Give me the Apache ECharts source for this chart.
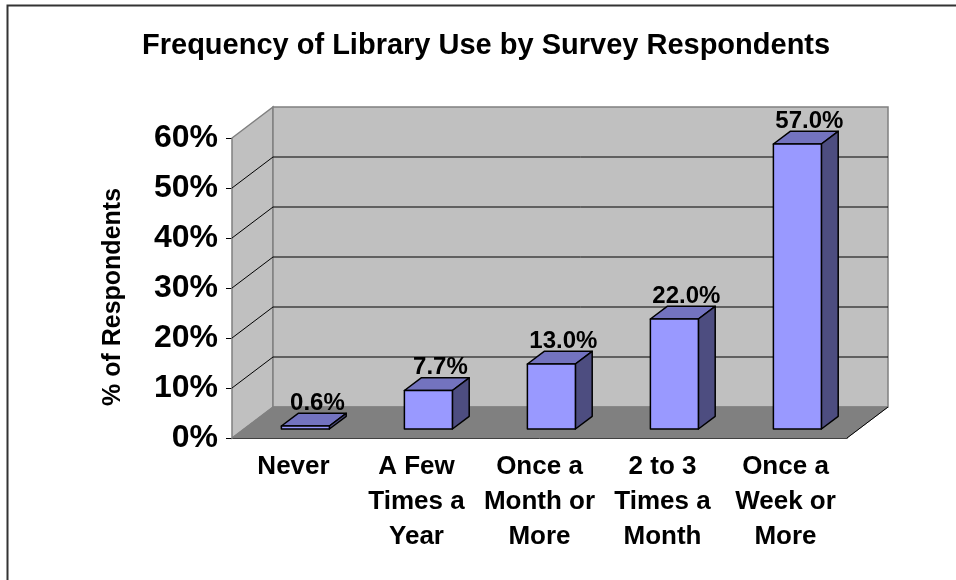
<!doctype html>
<html lang="en">
<head>
    <meta charset="UTF-8">
    <title>Frequency of Library Use</title>
    <style>
        html, body { margin: 0; padding: 0; background: #fff; }
        #main { width: 956px; height: 580px; }
    </style>
</head>
<body>
<div id="main"></div>
<script src="https://cdn.jsdelivr.net/npm/echarts@6/dist/echarts.min.js"></script>
<script type="text/javascript">
    // chart data
    var categories = ['Never', 'A Few\nTimes a\nYear', 'Once a\nMonth or\nMore', '2 to 3\nTimes a\nMonth', 'Once a\nWeek or\nMore'];
    var values = [0.6, 7.7, 13.0, 22.0, 57.0];
    var yMax = 60;
    var yStep = 10;

    // fake 3d look: depth offset of the back wall, bar depth slots
    var DX = 41, DY = -31;
    var F0 = 0.29, F1 = 0.70;
    var BAR_W = 48;
    var FONT = 'Liberation Sans, Arial, sans-serif';

    var myChart = echarts.init(document.getElementById('main'));

    // walls + floor, drawn once from the axis scale
    function renderWalls(params, api) {
        if (params.dataIndex !== 0) return;
        var n = categories.length;
        var bw = api.size([1, 0])[0];
        var x0 = api.coord([0, 0])[0] - bw / 2;
        var x1 = api.coord([n - 1, 0])[0] + bw / 2;
        var yb = api.coord([0, 0])[1];
        var yt = api.coord([0, yMax])[1];
        var kids = [];
        kids.push({
            type: 'polygon',
            shape: { points: [[x0, yt], [x0 + DX, yt + DY], [x0 + DX, yb + DY], [x0, yb]] },
            style: { fill: '#c0c0c0', stroke: '#808080', lineWidth: 1.5 }
        });
        kids.push({
            type: 'rect',
            shape: { x: x0 + DX, y: yt + DY, width: x1 - x0, height: yb - yt },
            style: { fill: '#c0c0c0', stroke: '#808080', lineWidth: 1.5 }
        });
        for (var v = yStep; v < yMax; v += yStep) {
            var y = api.coord([0, v])[1];
            kids.push({
                type: 'polyline',
                shape: { points: [[x0, y], [x0 + DX, y + DY], [x1 + DX, y + DY]] },
                style: { stroke: '#000', lineWidth: 1, fill: null }
            });
        }
        kids.push({
            type: 'polygon',
            shape: { points: [[x0, yb], [x0 + DX, yb + DY], [x1 + DX, yb + DY], [x1, yb]] },
            style: { fill: '#808080', stroke: '#808080', lineWidth: 1 }
        });
        kids.push({
            type: 'line',
            shape: { x1: x1, y1: yb, x2: x1 + DX, y2: yb + DY },
            style: { stroke: '#000', lineWidth: 1 }
        });
        return { type: 'group', children: kids };
    }

    function renderBar(params, api) {
        var cat = api.value(0);
        var val = api.value(1);
        var base = api.coord([cat, 0]);
        var top = api.coord([cat, val]);
        var dx = (F1 - F0) * DX, dy = (F1 - F0) * DY;
        var xl = base[0] - BAR_W / 2 + F0 * DX;
        var xr = xl + BAR_W;
        var yb = base[1] + F0 * DY;
        var yt = top[1] + F0 * DY;
        var line = { stroke: '#000', lineWidth: 1.5, lineJoin: 'round' };
        return {
            type: 'group',
            children: [
                {
                    type: 'polygon',
                    shape: { points: [[xl, yt], [xr, yt], [xr + dx, yt + dy], [xl + dx, yt + dy]] },
                    style: Object.assign({ fill: '#7373bf' }, line)
                },
                {
                    type: 'polygon',
                    shape: { points: [[xr, yb], [xr + dx, yb + dy], [xr + dx, yt + dy], [xr, yt]] },
                    style: Object.assign({ fill: '#4d4d80' }, line)
                },
                {
                    type: 'rect',
                    shape: { x: xl, y: yt, width: BAR_W, height: yb - yt },
                    style: Object.assign({ fill: '#9999ff' }, line)
                },
                {
                    type: 'text',
                    style: {
                        text: val.toFixed(1) + '%',
                        x: xl + BAR_W / 2 + 12,
                        y: yt - 23,
                        align: 'center',
                        verticalAlign: 'middle',
                        fontFamily: FONT,
                        fontWeight: 'bold',
                        fontSize: 24,
                        fill: '#000'
                    }
                }
            ]
        };
    }

    var option = {
        animation: false,
        title: {
            text: 'Frequency of Library Use by Survey Respondents',
            left: 142,
            top: 31,
            padding: 0,
            textStyle: { fontFamily: FONT, fontWeight: 'bold', fontSize: 29, color: '#000' }
        },
        graphic: [{
            type: 'rect',
            shape: { x: 7.5, y: 5.5, width: 1000, height: 1000 },
            style: { fill: null, stroke: '#333', lineWidth: 2 }
        }],
        grid: { left: 232, right: 109, top: 138, bottom: 142 },
        xAxis: {
            type: 'category',
            data: categories,
            axisLine: { lineStyle: { color: '#000', width: 1 } },
            axisTick: { length: 6, lineStyle: { color: '#000' } },
            axisLabel: {
                interval: 0,
                margin: 11,
                color: '#000',
                fontFamily: FONT,
                fontWeight: 'bold',
                fontSize: 26,
                lineHeight: 35
            }
        },
        yAxis: {
            type: 'value',
            min: 0,
            max: yMax,
            interval: yStep,
            name: '% of Respondents',
            nameLocation: 'middle',
            nameRotate: 90,
            nameGap: 106,
            nameTextStyle: { fontFamily: FONT, fontWeight: 'bold', fontSize: 25, color: '#000', padding: [0, 18, 0, 0] },
            axisLine: { show: true, lineStyle: { color: '#000', width: 1 } },
            axisTick: { show: true, length: 6, lineStyle: { color: '#000' } },
            splitLine: { show: false },
            axisLabel: {
                formatter: '{value}%',
                margin: 14,
                color: '#000',
                fontFamily: FONT,
                fontWeight: 'bold',
                fontSize: 32
            }
        },
        series: [
            {
                name: 'walls',
                type: 'custom',
                renderItem: renderWalls,
                data: [[0, 0]],
                encode: { x: 0, y: 1 },
                clip: false,
                silent: true,
                z: 1
            },
            {
                name: 'respondents',
                type: 'custom',
                renderItem: renderBar,
                data: values.map(function (v, i) { return [i, v]; }),
                encode: { x: 0, y: 1 },
                clip: false,
                z: 2
            }
        ]
    };
    myChart.setOption(option);
</script>
</body>
</html>
